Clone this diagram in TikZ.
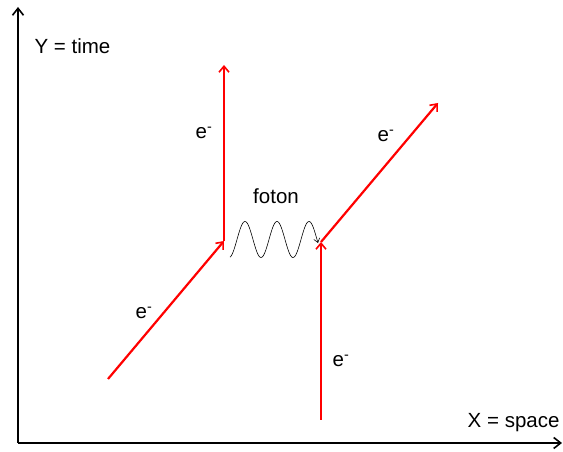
\documentclass[tikz,border=0pt]{standalone}
\usepackage{fontspec}
\setmainfont{Liberation Sans}
\usetikzlibrary{arrows.meta}

\begin{document}
\begin{tikzpicture}[x=1pt, y=1pt, font=\fontsize{20.5}{24}\selectfont,
    axis/.style={line width=2pt, -{Straight Barb[length=7pt, width=11pt, line width=1.6pt]}},
    electron/.style={red, line width=2.2pt, -{Straight Barb[length=6pt, width=10pt, line width=1.6pt]}},
    photon/.style={line width=0.6pt, -{Straight Barb[length=4pt, width=6pt]}}]
    \useasboundingbox (0,0) rectangle (563,452);
    % axes
    \coordinate (o) at (18,9);
    \coordinate (ytop) at (18,445);
    \coordinate (xend) at (562,9);
    \draw[axis] (o) -- (ytop);
    \draw[axis] (o) -- (xend);
    \node[anchor=west] (ylab) at (31,406) {Y = time};
    \node[anchor=east] (xlab) at (563,29) {X = space};
    % electron lines
    \coordinate (ain) at (108,73);
    \coordinate (avert) at (224,211);
    \coordinate (aout) at (224,387);
    \coordinate (bin) at (321,32);
    \coordinate (bvert) at (321,210);
    \coordinate (bout) at (438,349);
    \draw[electron] (ain) -- (avert);
    \draw[electron] (avert) -- (aout);
    \draw[electron] (bin) -- (bvert);
    \draw[electron] (bvert) -- (bout);
    % photon
    \draw[photon, domain=230:318, samples=120, smooth]
        plot (\x, {212.5+18*sin(11.25*(\x-237))});
    \node (fot) at (276,256) {foton};
    % labels
    \node (e1) at (204,319) {e\textsuperscript{-}};
    \node (e2) at (386,316) {e\textsuperscript{-}};
    \node (e3) at (144,139) {e\textsuperscript{-}};
    \node (e4) at (341,91) {e\textsuperscript{-}};
\end{tikzpicture}
\end{document}
